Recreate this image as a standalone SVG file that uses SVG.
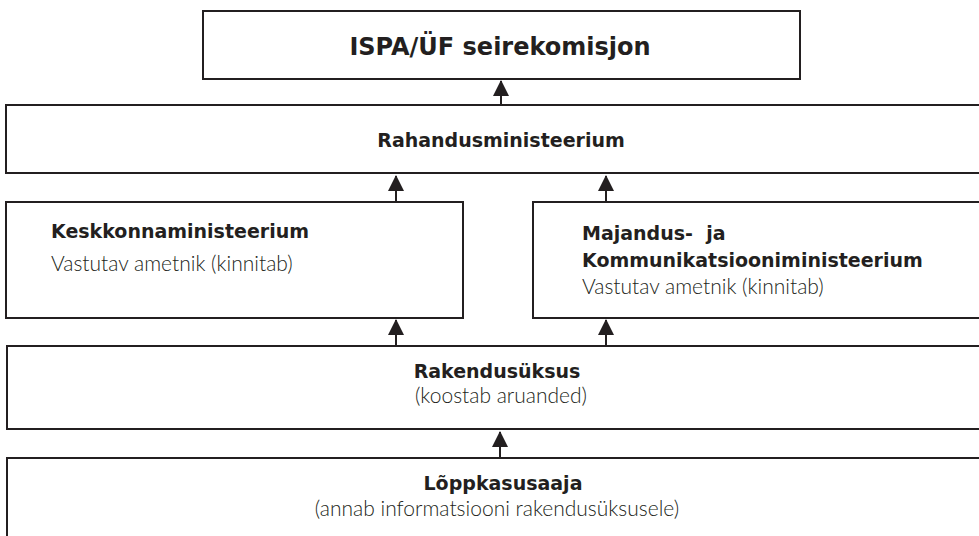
<svg xmlns="http://www.w3.org/2000/svg" width="979" height="536" viewBox="0 0 979 536">
  <style>
    .box { fill: #ffffff; stroke: #231f20; stroke-width: 2; }
    .hd { font-family: "DejaVu Sans", "Liberation Sans", sans-serif; font-weight: bold; fill: #231f20; font-size: 19px; }
    .title { font-size: 24px; }
    .lt { font-family: "Lato", "Liberation Sans", sans-serif; font-weight: 300; fill: #231f20; font-size: 21px; }
    .conn { stroke: #231f20; stroke-width: 2; fill: none; marker-end: url(#ah); }
  </style>
  <defs>
    <marker id="ah" markerWidth="16" markerHeight="16" refX="15" refY="8" orient="auto" markerUnits="userSpaceOnUse">
      <path d="M0,0 L16,8 L0,16 z" fill="#231f20"/>
    </marker>
  </defs>
  <rect width="979" height="536" fill="#ffffff"/>

  <g id="seirekomisjon">
    <rect class="box" x="203" y="11" width="597" height="68"/>
    <text class="hd title" x="500" y="55" text-anchor="middle">ISPA/ÜF seirekomisjon</text>
  </g>

  <g id="rahandusministeerium">
    <rect class="box" x="6" y="105" width="990" height="68"/>
    <text class="hd" x="501" y="147" text-anchor="middle">Rahandusministeerium</text>
  </g>

  <g id="keskkonnaministeerium">
    <rect class="box" x="6" y="202" width="457" height="116"/>
    <text class="hd" x="51" y="238">Keskkonnaministeerium</text>
    <text class="lt" x="51" y="271">Vastutav ametnik (kinnitab)</text>
  </g>

  <g id="majandusministeerium">
    <rect class="box" x="533" y="202" width="463" height="116"/>
    <text class="hd" x="582" y="240">Majandus-&#160; ja</text>
    <text class="hd" x="582" y="267">Kommunikatsiooniministeerium</text>
    <text class="lt" x="582" y="294">Vastutav ametnik (kinnitab)</text>
  </g>

  <g id="rakendusuksus">
    <rect class="box" x="7" y="346" width="990" height="83"/>
    <text class="hd" x="497" y="378" text-anchor="middle">Rakendusüksus</text>
    <text class="lt" x="501" y="403" text-anchor="middle">(koostab aruanded)</text>
  </g>

  <g id="loppkasusaaja">
    <rect class="box" x="7" y="458" width="990" height="90"/>
    <text class="hd" x="503" y="490" text-anchor="middle">Lõppkasusaaja</text>
    <text class="lt" x="497" y="516" text-anchor="middle">(annab informatsiooni rakendusüksusele)</text>
  </g>

  <g id="connectors">
    <line class="conn" x1="501" y1="105" x2="501" y2="81"/>
    <line class="conn" x1="396" y1="202" x2="396" y2="176"/>
    <line class="conn" x1="606" y1="202" x2="606" y2="176"/>
    <line class="conn" x1="396" y1="346" x2="396" y2="320"/>
    <line class="conn" x1="606" y1="346" x2="606" y2="320"/>
    <line class="conn" x1="500" y1="458" x2="500" y2="432"/>
  </g>
</svg>
